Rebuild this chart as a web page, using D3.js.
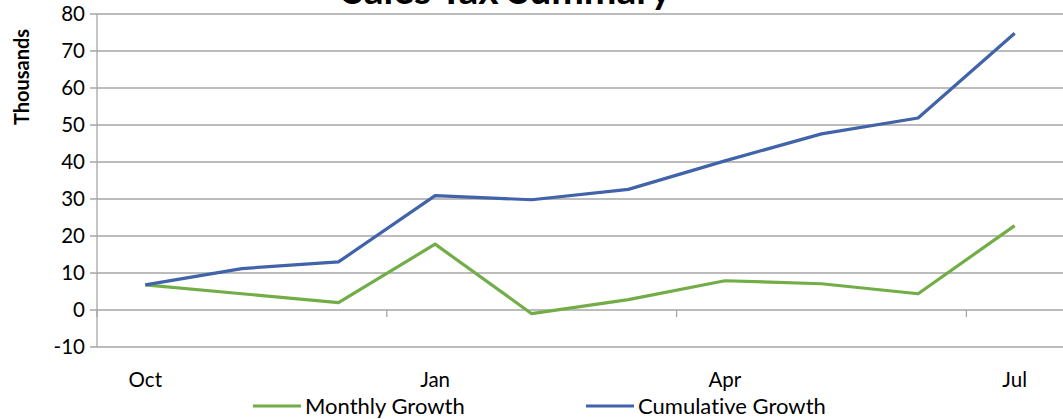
<!DOCTYPE html>
<html>
<head>
<meta charset="utf-8">
<script src="https://cdn.jsdelivr.net/npm/d3@7"></script>
<style>
  body { margin: 0; background: #fff; }
  svg { display: block; font-family: Lato, "Open Sans", sans-serif; font-variant-ligatures: none; }
</style>
</head>
<body>
<svg id="chart" width="1063" height="419"></svg>
<script>
var months = ["Oct", "Nov", "Dec", "Jan", "Feb", "Mar", "Apr", "May", "Jun", "Jul"];
var monthlyGrowth = [6.8, 4.4, 2.0, 17.8, -1.0, 2.8, 7.9, 7.1, 4.4, 22.8];
var cumulativeGrowth = [6.8, 11.2, 13.0, 30.9, 29.8, 32.6, 40.3, 47.6, 51.9, 74.8];
var yTicks = [-10, 0, 10, 20, 30, 40, 50, 60, 70, 80];
var shownLabels = ["Oct", "Jan", "Apr", "Jul"];

var margin = {top: 14, right: 0, bottom: 72, left: 97},
    width = 1063 - margin.left - margin.right,
    height = 419 - margin.top - margin.bottom;

var svg = d3.select("#chart");
var g = svg.append("g").attr("transform", "translate(" + margin.left + "," + margin.top + ")");

var x = d3.scaleBand().domain(months).range([0, width]);
var y = d3.scaleLinear().domain([-10, 80]).range([height, 0]);

// gridlines with small tick stubs to the left
g.selectAll("line.grid")
  .data(yTicks)
  .enter().append("line")
    .attr("class", "grid")
    .attr("x1", -7)
    .attr("x2", width)
    .attr("y1", function(d) { return y(d); })
    .attr("y2", function(d) { return y(d); })
    .attr("stroke", "#a6a6a6")
    .attr("stroke-width", 1.3);

// y axis line
g.append("line")
  .attr("x1", 0).attr("x2", 0)
  .attr("y1", 0).attr("y2", height)
  .attr("stroke", "#a6a6a6")
  .attr("stroke-width", 1.3);

// y tick labels
g.selectAll("text.ylab")
  .data(yTicks)
  .enter().append("text")
    .attr("class", "ylab")
    .attr("x", -12)
    .attr("y", function(d) { return y(d); })
    .attr("dy", "0.35em")
    .attr("text-anchor", "end")
    .style("font-size", "20.5px")
    .text(function(d) { return d; });

// category tick marks on the zero line, every 3 months
var tickCats = months.filter(function(d, i) { return i % 3 === 0; });
g.selectAll("line.xtick")
  .data(tickCats)
  .enter().append("line")
    .attr("class", "xtick")
    .attr("x1", function(d) { return x(d); })
    .attr("x2", function(d) { return x(d); })
    .attr("y1", y(0))
    .attr("y2", y(0) + 7)
    .attr("stroke", "#a6a6a6")
    .attr("stroke-width", 1.3);

// x labels
g.selectAll("text.xlab")
  .data(shownLabels)
  .enter().append("text")
    .attr("class", "xlab")
    .attr("x", function(d) { return x(d) + x.bandwidth() / 2; })
    .attr("y", height + 40)
    .attr("text-anchor", "middle")
    .style("font-size", "20.5px")
    .text(function(d) { return d; });

var line = d3.line()
  .x(function(d, i) { return x(months[i]) + x.bandwidth() / 2; })
  .y(function(d) { return y(d); });

g.append("path")
  .datum(monthlyGrowth)
  .attr("fill", "none")
  .attr("stroke", "#72ad47")
  .attr("stroke-width", 3.2)
  .attr("stroke-linejoin", "round")
  .attr("d", line);

g.append("path")
  .datum(cumulativeGrowth)
  .attr("fill", "none")
  .attr("stroke", "#4063a9")
  .attr("stroke-width", 3.2)
  .attr("stroke-linejoin", "round")
  .attr("d", line);

// title (partly cut off at top, as in the original)
svg.append("text")
  .attr("x", 507)
  .attr("y", 4)
  .attr("text-anchor", "middle")
  .style("font-size", "39px")
  .style("font-weight", "bold")
  .text("Sales Tax Summary");

// y axis title
svg.append("text")
  .attr("transform", "translate(29,77) rotate(-90)")
  .attr("text-anchor", "middle")
  .style("font-size", "20px")
  .style("font-weight", "bold")
  .text("Thousands");

// legend
var legend = [
  {name: "Monthly Growth", color: "#72ad47", x: 253},
  {name: "Cumulative Growth", color: "#4063a9", x: 586}
];
var lg = svg.selectAll("g.legend")
  .data(legend)
  .enter().append("g")
    .attr("class", "legend")
    .attr("transform", function(d) { return "translate(" + d.x + ",406)"; });
lg.append("line")
  .attr("x1", 0).attr("x2", 48)
  .attr("stroke", function(d) { return d.color; })
  .attr("stroke-width", 3.2);
lg.append("text")
  .attr("x", 52)
  .attr("dy", "0.35em")
  .style("font-size", "22px")
  .text(function(d) { return d.name; });
</script>
</body>
</html>
